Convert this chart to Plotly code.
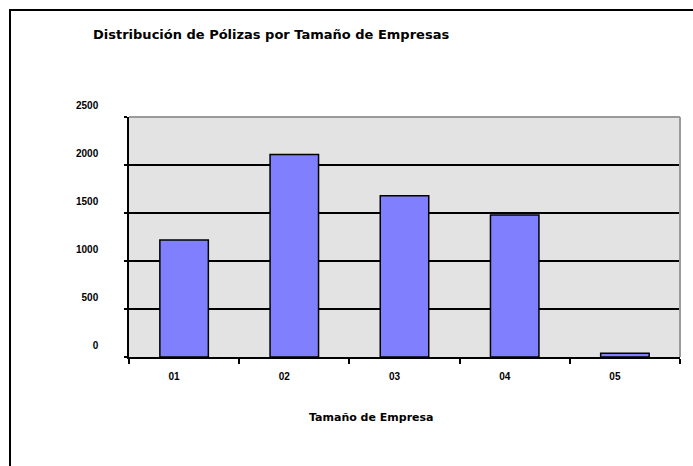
import plotly.graph_objects as go

# Data
categories = ["01", "02", "03", "04", "05"]
polizas = [1220, 2110, 1680, 1480, 40]
y_ticks = [0, 500, 1000, 1500, 2000, 2500]

title_text = "Distribución de Pólizas por Tamaño de Empresas"
x_title = "Tamaño de Empresa"

W, H = 693, 466
L, R, T, B = 129, 13, 117, 109
plot_w = W - L - R
plot_h = H - T - B

fig = go.Figure()
fig.add_trace(go.Bar(
    x=categories,
    y=polizas,
    marker=dict(color="#8080ff", line=dict(color="black", width=1.5)),
    width=0.44,
))

font_b = dict(family="Liberation Sans, Arial, sans-serif", color="black")
font_heavy = dict(family="DejaVu Sans, sans-serif", color="black")

fig.update_layout(
    width=W, height=H, autosize=False,
    margin=dict(l=L, r=R, t=T, b=B, pad=0),
    paper_bgcolor="white",
    plot_bgcolor="#e3e3e3",
    showlegend=False,
    title=dict(
        text="<b>" + title_text + "</b>",
        x=93 / W, xanchor="left", xref="container",
        y=1 - 34 / H, yanchor="middle",
        font=dict(size=13, **font_heavy),
    ),
    xaxis=dict(
        type="category",
        tickson="boundaries",
        ticks="outside", ticklen=5, tickwidth=1.5, tickcolor="black",
        showline=True, linecolor="black", linewidth=1.5,
        showgrid=False,
        tickfont=dict(size=10, weight="bold", **font_b),
        ticklabelshift=-10,
        ticklabelstandoff=9,
    ),
    yaxis=dict(
        range=[0, 2500],
        tickvals=y_ticks,
        ticktext=[str(v) for v in y_ticks],
        ticks="outside", ticklen=3, tickwidth=1.5, tickcolor="black",
        showline=True, linecolor="black", linewidth=1.5,
        showgrid=True, gridcolor="black", gridwidth=1.5,
        zeroline=False,
        tickfont=dict(size=10, weight="bold", **font_b),
        ticklabelshift=-12,
        ticklabelstandoff=24,
    ),
    annotations=[dict(
        text="<b>" + x_title + "</b>",
        xref="paper", yref="paper",
        x=(371 - L) / plot_w, y=(357 - 417) / plot_h,
        xanchor="center", yanchor="middle", showarrow=False,
        font=dict(size=11, **font_heavy),
    )],
    shapes=[
        # gray top and right border of the plot area
        dict(type="line", xref="paper", yref="paper", x0=0, x1=1, y0=1, y1=1,
             line=dict(color="#9a9a9a", width=2)),
        dict(type="line", xref="paper", yref="paper", x0=1, x1=1, y0=0, y1=1,
             line=dict(color="#9a9a9a", width=2)),
        # outer chart frame
        dict(type="rect", xref="paper", yref="paper",
             x0=(10 - L) / plot_w, x1=(720 - L) / plot_w,
             y0=(357 - 500) / plot_h, y1=(357 - 10) / plot_h,
             line=dict(color="black", width=2), layer="above"),
    ],
)

fig.write_html("out.html")
